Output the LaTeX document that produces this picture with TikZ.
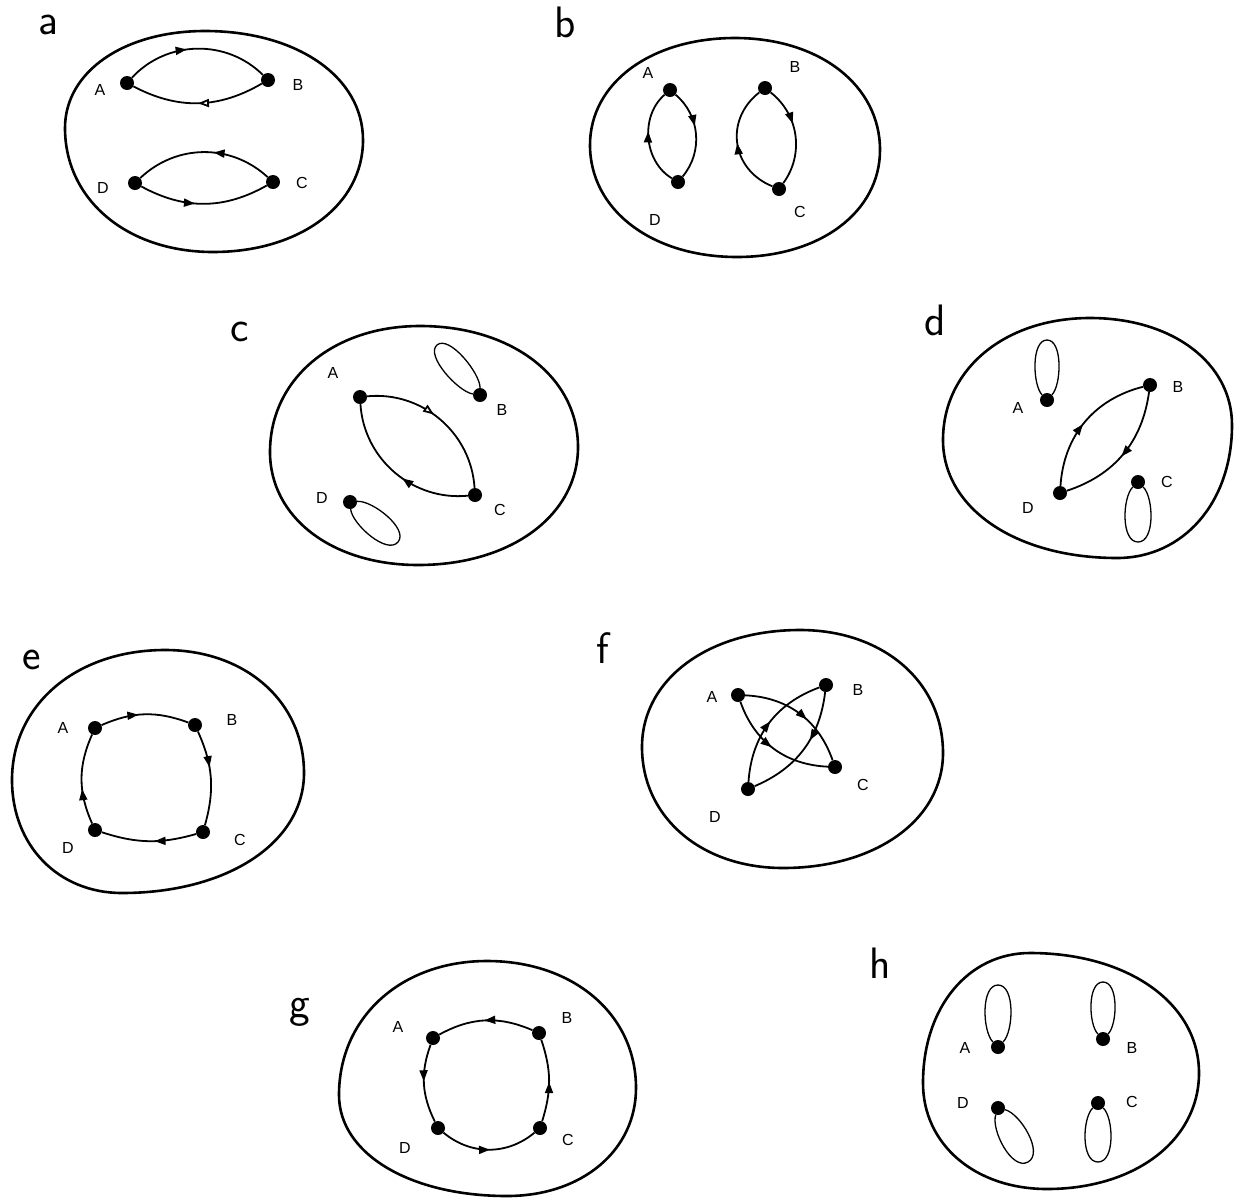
\documentclass[tikz,border=0pt]{standalone}
\usepackage{fontspec}
\newfontfamily\lblfont{Liberation Sans}
\usetikzlibrary{arrows.meta,decorations.markings}
\newcommand{\eggcurve}[8]{%
 \pgfmathsetmacro\egA{#1+0.58*(#3-#1)}%
 \pgfmathsetmacro\egB{#4-0.58*(#4-#2)}%
 \pgfmathsetmacro\egC{#4+0.58*(#6-#4)}%
 \pgfmathsetmacro\egD{#5+0.58*(#3-#5)}%
 \pgfmathsetmacro\egE{#5-0.58*(#5-#7)}%
 \pgfmathsetmacro\egF{#8+0.58*(#6-#8)}%
 \pgfmathsetmacro\egG{#8-0.58*(#8-#2)}%
 \pgfmathsetmacro\egH{#1-0.58*(#1-#7)}%
 \draw[outer] (#1,#2) .. controls (\egA,#2) and (#3,\egB) .. (#3,#4)
   .. controls (#3,\egC) and (\egD,#6) .. (#5,#6)
   .. controls (\egE,#6) and (#7,\egF) .. (#7,#8)
   .. controls (#7,\egG) and (\egH,#2) .. cycle;}
\newcommand{\selfloop}[6]{% node, px, py, tx, ty, r
 \pgfmathsetmacro\slLx{#4-#2}%
 \pgfmathsetmacro\slLy{#5-#3}%
 \pgfmathsetmacro\slL{veclen(\slLx,\slLy)}%
 \pgfmathsetmacro\slvx{-\slLy/\slL}%
 \pgfmathsetmacro\slvy{\slLx/\slL}%
 \pgfmathsetmacro\slaX{#2+0.25*\slLx+1.2*#6*\slvx}%
 \pgfmathsetmacro\slaY{#3+0.25*\slLy+1.2*#6*\slvy}%
 \pgfmathsetmacro\slbX{#4+1.33*#6*\slvx}%
 \pgfmathsetmacro\slbY{#5+1.33*#6*\slvy}%
 \pgfmathsetmacro\slcX{#4-1.33*#6*\slvx}%
 \pgfmathsetmacro\slcY{#5-1.33*#6*\slvy}%
 \pgfmathsetmacro\sldX{#2+0.25*\slLx-1.2*#6*\slvx}%
 \pgfmathsetmacro\sldY{#3+0.25*\slLy-1.2*#6*\slvy}%
 \coordinate (#1t) at (#4,#5);
 \draw[loopline] (#1) .. controls (\slaX,\slaY) and (\slbX,\slbY) .. (#1t)
   .. controls (\slcX,\slcY) and (\sldX,\sldY) .. (#1);}
\begin{document}
\begin{tikzpicture}[x=1pt,y=-1pt,
 outer/.style={line width=2.6pt, line join=round},
 edge/.style={line width=1.8pt},
 loopline/.style={line width=1.3pt},
 dot/.style={circle, fill=black, inner sep=0pt, minimum size=14pt},
 lbl/.style={font=\lblfont\fontsize{16}{16}\selectfont},
 panel/.style={font=\sffamily\fontsize{44}{44}\selectfont},
 midarrow/.style={postaction={decorate,decoration={markings,mark=at position #1 with {\arrow{Triangle[length=11pt,width=8pt]}}}}},
 midarrowopen/.style={postaction={decorate,decoration={markings,mark=at position #1 with {\arrow{Triangle[open,length=11pt,width=8pt,fill=white]}}}}}
]
\useasboundingbox (0,0) rectangle (1240,1203);

% ---------- panel letters
\node[panel] (La) at (48,25) {a};
\node[panel] (Lb) at (565,22) {b};
\node[panel] (Lc) at (240,332) {c};
\node[panel] (Ld) at (935,320) {d};
\node[panel] (Le) at (32,660) {e};
\node[panel] (Lf) at (603,648) {f};
\node[panel] (Lg) at (300,1012) {g};
\node[panel] (Lh) at (880,963) {h};

% ---------- outer curves (top, right, bottom, left)
\eggcurve{205}{31}{363}{140}{213}{252}{65}{128}
\eggcurve{735}{38}{880}{150}{737}{257}{590}{145}
\eggcurve{420}{326}{578}{447}{418}{565}{270}{452}
\eggcurve{1090}{318}{1232}{425}{1117}{558}{943}{440}
\eggcurve{165}{650}{304}{773}{122}{893}{12}{780}
\eggcurve{800}{630}{943}{753}{783}{868}{642}{747}
\eggcurve{487}{961}{636}{1088}{507}{1196}{339}{1095}
\eggcurve{1030}{953}{1199}{1073}{1047}{1189}{923}{1083}

% ---------- panel a
\node[dot] (aA) at (127,83) {};
\node[dot] (aB) at (268,80) {};
\node[dot] (aC) at (273,182) {};
\node[dot] (aD) at (135,183) {};
\node[lbl] (aAl) at (100,90) {A};
\node[lbl] (aBl) at (298,85) {B};
\node[lbl] (aCl) at (302,183) {C};
\node[lbl] (aDl) at (103,188) {D};
\draw[edge, midarrow=0.43] (aA) to[bend left=46] (aB);
\draw[edge, midarrowopen=0.5] (aB) to[bend left=29] (aA);
\draw[edge, midarrow=0.43] (aC) to[bend right=43] (aD);
\draw[edge, midarrow=0.43] (aD) to[bend right=29] (aC);

% ---------- panel b
\node[dot] (bA) at (670,90) {};
\node[dot] (bB) at (765,88) {};
\node[dot] (bC) at (779,189) {};
\node[dot] (bD) at (678,182) {};
\node[lbl] (bAl) at (648,73) {A};
\node[lbl] (bBl) at (795,67) {B};
\node[lbl] (bCl) at (800,212) {C};
\node[lbl] (bDl) at (655,220) {D};
\draw[edge, midarrow=0.41] (bA) to[bend left=45] (bD);
\draw[edge, midarrow=0.57] (bD) to[bend left=54] (bA);
\draw[edge, midarrow=0.38] (bB) to[bend left=44] (bC);
\draw[edge, midarrow=0.5] (bC) to[bend left=60, looseness=1.2] (bB);

% ---------- panel c
\node[dot] (cA) at (360,397) {};
\node[dot] (cB) at (480,395) {};
\node[dot] (cC) at (475,495) {};
\node[dot] (cD) at (350,502) {};
\node[lbl] (cAl) at (333,373) {A};
\node[lbl] (cBl) at (502,410) {B};
\node[lbl] (cCl) at (500,510) {C};
\node[lbl] (cDl) at (322,498) {D};
\draw[edge, midarrowopen=0.45] (cA) to[bend left=46] (cC);
\draw[edge, midarrow=0.44] (cC) to[bend left=46] (cA);
\selfloop{cB}{480}{395}{437}{345}{12}
\selfloop{cD}{350}{502}{398}{542}{13}

% ---------- panel d
\node[dot] (dA) at (1047,400) {};
\node[dot] (dB) at (1150,385) {};
\node[dot] (dC) at (1138,482) {};
\node[dot] (dD) at (1060,493) {};
\node[lbl] (dAl) at (1018,408) {A};
\node[lbl] (dBl) at (1178,387) {B};
\node[lbl] (dCl) at (1167,482) {C};
\node[lbl] (dDl) at (1028,508) {D};
\draw[edge, midarrow=0.48] (dD) to[bend left=36] (dB);
\draw[edge, midarrow=0.52] (dB) to[bend left=32] (dD);
\selfloop{dA}{1047}{400}{1047}{340}{12}
\selfloop{dC}{1138}{482}{1138}{542}{13}

% ---------- panel e
\node[dot] (eA) at (95,728) {};
\node[dot] (eB) at (195,725) {};
\node[dot] (eC) at (203,832) {};
\node[dot] (eD) at (95,830) {};
\node[lbl] (eAl) at (63,728) {A};
\node[lbl] (eBl) at (232,720) {B};
\node[lbl] (eCl) at (240,840) {C};
\node[lbl] (eDl) at (68,848) {D};
\draw[edge, midarrow=0.43] (eA) to[bend left=22] (eB);
\draw[edge, midarrow=0.39] (eB) to[bend left=20] (eC);
\draw[edge, midarrow=0.44] (eC) to[bend left=17] (eD);
\draw[edge, midarrow=0.39] (eD) to[bend left=24] (eA);

% ---------- panel f
\node[dot] (fA) at (738,695) {};
\node[dot] (fB) at (826,685) {};
\node[dot] (fC) at (835,767) {};
\node[dot] (fD) at (748,789) {};
\node[lbl] (fAl) at (712,697) {A};
\node[lbl] (fBl) at (858,690) {B};
\node[lbl] (fCl) at (863,785) {C};
\node[lbl] (fDl) at (715,817) {D};
\draw[edge, midarrow=0.58] (fA) to[bend left=34] (fC);
\draw[edge, midarrow=0.48] (fA) to[bend right=34] (fC);
\draw[edge, midarrow=0.52] (fD) to[bend left=33] (fB);
\draw[edge, midarrow=0.41] (fB) to[bend left=30] (fD);

% ---------- panel g
\node[dot] (gA) at (433,1038) {};
\node[dot] (gB) at (539,1033) {};
\node[dot] (gC) at (540,1128) {};
\node[dot] (gD) at (438,1128) {};
\node[lbl] (gAl) at (398,1027) {A};
\node[lbl] (gBl) at (567,1018) {B};
\node[lbl] (gCl) at (568,1140) {C};
\node[lbl] (gDl) at (405,1148) {D};
\draw[edge, midarrow=0.51] (gB) to[bend right=26] (gA);
\draw[edge, midarrow=0.47] (gA) to[bend right=23] (gD);
\draw[edge, midarrow=0.51] (gD) to[bend right=40] (gC);
\draw[edge, midarrow=0.48] (gC) to[bend right=18] (gB);

% ---------- panel h
\node[dot] (hA) at (998,1047) {};
\node[dot] (hB) at (1103,1039) {};
\node[dot] (hC) at (1098,1103) {};
\node[dot] (hD) at (998,1108) {};
\node[lbl] (hAl) at (965,1048) {A};
\node[lbl] (hBl) at (1132,1048) {B};
\node[lbl] (hCl) at (1132,1102) {C};
\node[lbl] (hDl) at (963,1103) {D};
\selfloop{hA}{998}{1047}{998}{985}{13}
\selfloop{hB}{1103}{1039}{1103}{982}{12}
\selfloop{hC}{1098}{1103}{1098}{1162}{13}
\selfloop{hD}{998}{1108}{1028}{1162}{14}
\end{tikzpicture}
\end{document}
